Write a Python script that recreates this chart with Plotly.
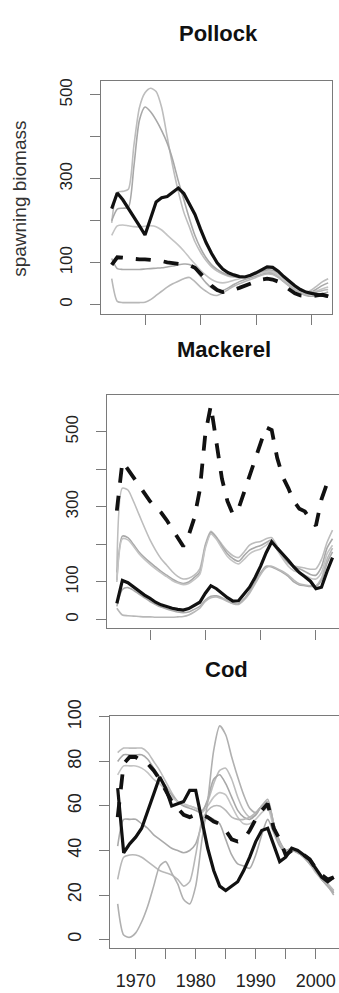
import plotly.graph_objects as go

# ---------------- data ----------------
years_pollock = list(range(1964, 2004))
years_mackerel = list(range(1964, 2004))
years_cod = list(range(1967, 2004))

pollock_solid = [229, 266, 250, 230, 210, 188, 166, 205, 245, 255, 258, 268, 278, 265, 240, 215,
                 180, 148, 122, 100, 85, 76, 71, 67, 66, 70, 76, 84, 90, 89, 80, 67, 55, 45, 36, 30,
                 27, 24, 22, 20]
pollock_dashed = [95, 113, 112, 110, 109, 108, 108, 107, 106, 104, 101, 99, 98, 96, 94, 88,
                  75, 60, 45, 35, 30, 32, 36, 40, 45, 50, 55, 60, 62, 60, 55, 45, 35, 27, 22, 20,
                  20, 22, 24, 20]
pollock_gray = [
    [195, 268, 270, 275, 380, 470, 505, 516, 508, 470, 400, 330, 270, 220, 185, 150,
     125, 105, 90, 80, 73, 68, 66, 65, 66, 70, 74, 78, 80, 78, 72, 62, 50, 40, 33, 30,
     35, 45, 55, 62],
    [200, 228, 230, 232, 330, 440, 471, 460, 440, 415, 385, 345, 295, 250, 205, 165,
     135, 112, 95, 84, 76, 70, 67, 66, 67, 70, 75, 80, 83, 82, 76, 65, 53, 42, 34, 28,
     30, 38, 46, 52],
    [165, 188, 190, 188, 186, 185, 187, 188, 186, 178, 166, 154, 142, 128, 112, 97,
     82, 70, 60, 54, 52, 54, 58, 62, 65, 68, 72, 76, 78, 77, 70, 60, 48, 38, 30, 25,
     28, 33, 38, 42],
    [110, 86, 84, 84, 84, 84, 85, 86, 87, 88, 90, 92, 95, 97, 96, 85,
     68, 52, 40, 33, 34, 40, 48, 55, 60, 64, 68, 72, 75, 74, 66, 55, 45, 36, 28, 22,
     20, 22, 26, 30],
    [62, 8, 5, 5, 5, 5, 6, 12, 22, 32, 42, 50, 56, 62, 65, 55,
     42, 32, 24, 22, 28, 36, 44, 50, 55, 60, 65, 70, 73, 72, 65, 55, 44, 35, 28, 24,
     26, 30, 34, 36],
]

mackerel_solid = [43, 104, 98, 87, 75, 65, 56, 46, 39, 34, 30, 27, 25, 29, 38, 46,
                  70, 90, 82, 70, 58, 49, 50, 68, 86, 112, 142, 178, 207, 190, 175, 158, 140, 125,
                  114, 102, 82, 86, 128, 165]
mackerel_dashed = [290, 420, 400, 378, 355, 335, 315, 300, 285, 265, 240, 215, 195, 225, 270, 345,
                   495, 570, 479, 375, 315, 280, 295, 340, 385, 431, 470, 512, 505, 430, 380, 350,
                   315, 295, 288, 265, 250, 320, 362, 350]
mackerel_gray = [
    [125, 350, 345, 315, 280, 245, 212, 185, 162, 145, 128, 115, 108, 110, 118, 135,
     200, 235, 220, 200, 182, 170, 165, 180, 198, 205, 208, 215, 218, 195, 172, 155,
     143, 140, 137, 134, 135, 160, 205, 238],
    [105, 222, 218, 200, 180, 165, 152, 140, 128, 118, 108, 100, 96, 100, 112, 126,
     195, 232, 218, 195, 175, 162, 155, 170, 185, 192, 197, 205, 212, 190, 168, 150,
     140, 135, 128, 120, 118, 140, 190, 215],
    [100, 215, 212, 195, 175, 160, 147, 135, 124, 114, 104, 97, 93, 96, 106, 120,
     190, 228, 214, 190, 168, 155, 148, 160, 175, 183, 188, 198, 208, 185, 162, 142,
     130, 125, 118, 110, 108, 125, 175, 198],
    [35, 80, 85, 78, 68, 58, 48, 40, 33, 28, 24, 20, 18, 20, 27, 35,
     52, 62, 63, 58, 50, 43, 42, 55, 75, 100, 125, 142, 140, 133, 125, 115,
     100, 92, 90, 88, 88, 105, 150, 180],
    [30, 12, 10, 9, 8, 7, 7, 6, 6, 6, 6, 7, 8, 12, 20, 30,
     48, 58, 60, 55, 48, 42, 40, 52, 70, 95, 120, 138, 142, 135, 128, 118,
     105, 95, 92, 90, 90, 110, 160, 190],
]

cod_solid = [68, 39, 43, 46, 50, 58, 66, 73, 68, 60, 61, 62, 67, 67, 54, 41, 31, 24, 22, 24,
             26, 31, 37, 44, 49, 50, 42, 35, 37, 41, 40, 38, 36, 32, 28, 26, 28]
cod_dashed = [55, 79, 82, 82, 80, 79, 76, 72, 67, 62, 59, 56, 55, 56, 56, 55, 53, 52, 49, 45,
              44, 45, 49, 54, 58, 61, 50, 45, 38, 40, 40, 38, 36, 32, 29, 27, 28]
cod_gray = [
    [84, 86, 86, 86, 86, 84, 80, 76, 71, 66, 62, 60, 60, 59, 58, 62, 70, 76, 77, 72,
     64, 58, 55, 56, 60, 62, 52, 44, 40, 41, 40, 38, 35, 31, 28, 25, 22],
    [80, 83, 83, 83, 83, 81, 77, 73, 69, 65, 62, 60, 59, 58, 57, 63, 72, 74, 70, 64,
     58, 55, 54, 56, 60, 61, 51, 43, 39, 40, 39, 37, 34, 31, 27, 24, 21],
    [74, 78, 78, 78, 77, 75, 72, 70, 67, 64, 62, 61, 60, 59, 57, 60, 64, 66, 65, 60,
     55, 52, 52, 54, 57, 59, 50, 43, 39, 40, 39, 37, 34, 30, 27, 24, 22],
    [42, 54, 54, 54, 52, 50, 47, 45, 43, 41, 40, 39, 40, 43, 51, 55, 54, 52, 45, 38,
     34, 33, 32, 38, 47, 54, 48, 42, 39, 40, 39, 37, 34, 31, 27, 24, 21],
    [27, 37, 38, 38, 37, 35, 33, 31, 30, 29, 27, 24, 26, 38, 53, 58, 60, 60, 58, 55,
     54, 54, 55, 57, 60, 62, 52, 44, 40, 41, 40, 38, 35, 31, 28, 25, 22],
    [16, 2, 1, 3, 8, 15, 24, 33, 35, 30, 25, 18, 16, 24, 44, 62, 85, 96, 92, 82,
     73, 65, 59, 57, 60, 63, 52, 44, 40, 41, 40, 38, 35, 31, 27, 24, 20],
]

titles = ["Pollock", "Mackerel", "Cod"]
ylab = "spawning biomass"

# ---------------- figure ----------------
W, H = 339, 993
FONT = "Liberation Sans, Arial, Helvetica, sans-serif"
GRAYS = ["#bdbdbd", "#a8a8a8", "#c4c4c4", "#aaaaaa", "#b8b8b8", "#b0b0b0"]
BOX = "#7a7a7a"

fig = go.Figure()

panels = [
    (years_pollock, pollock_solid, pollock_dashed, pollock_gray, "x", "y"),
    (years_mackerel, mackerel_solid, mackerel_dashed, mackerel_gray, "x2", "y2"),
    (years_cod, cod_solid, cod_dashed, cod_gray, "x3", "y3"),
]
for yrs, solid, dashed, grays, xa, ya in panels:
    for i, g in enumerate(grays):
        fig.add_trace(go.Scatter(x=yrs, y=g, mode="lines", xaxis=xa, yaxis=ya,
                                 line=dict(color=GRAYS[i % len(GRAYS)], width=1.6,
                                           shape="spline", smoothing=0.7),
                                 hoverinfo="skip", showlegend=False))
    fig.add_trace(go.Scatter(x=yrs, y=solid, mode="lines", xaxis=xa, yaxis=ya,
                             line=dict(color="#111111", width=3.2),
                             showlegend=False))
    fig.add_trace(go.Scatter(x=yrs, y=dashed, mode="lines", xaxis=xa, yaxis=ya,
                             line=dict(color="#111111", width=3.8, dash="15px,13px"),
                             showlegend=False))


def px_x(p):
    return p / W


def px_y(p):
    return 1 - p / H


def xaxis(domain, rng, tickvals, ticktext, tick_font):
    return dict(domain=domain, range=rng, showgrid=False, zeroline=False,
                showline=True, linecolor=BOX, linewidth=1.3, mirror=True,
                ticks="outside", ticklen=10, tickwidth=1.3, tickcolor=BOX,
                tickvals=tickvals, ticktext=ticktext,
                tickfont=dict(family=FONT, size=tick_font, color="#222"),
                ticklabelstandoff=6, fixedrange=True)


def yaxis(domain, rng, tickvals, ticktext, anchor, mirror, tick_font):
    return dict(domain=domain, range=rng, anchor=anchor, showgrid=False, zeroline=False,
                showline=True, linecolor=BOX, linewidth=1.3, mirror=mirror,
                ticks="outside", ticklen=10, tickwidth=1.3, tickcolor=BOX,
                tickvals=tickvals, ticktext=ticktext, tickangle=-90,
                tickfont=dict(family=FONT, size=tick_font, color="#222"),
                ticklabelstandoff=11, fixedrange=True)


big_ticks = [0, 100, 200, 300, 400, 500]
big_text = ["0", "100", "", "300", "", "500"]
dec = [1970, 1980, 1990, 2000]
cod_xt = [1970, 1975, 1980, 1985, 1990, 1995, 2000]
cod_xtext = ["1970", "", "1980", "", "1990", "", "2000"]

fig.update_layout(
    width=W, height=H, margin=dict(l=0, r=0, t=0, b=0),
    paper_bgcolor="white", plot_bgcolor="white", showlegend=False,
    xaxis=dict(xaxis([px_x(101), px_x(332)], [1962.07, 1962.07 + 231 / 5.55], dec,
                     ["", "", "", ""], 17), anchor="y"),
    yaxis=yaxis([px_y(302), px_y(65)], [-21.8, 533.4], big_ticks, big_text, "x", True, 17),
    xaxis2=dict(xaxis([px_x(107), 1.0], [1962.22, 2004.17], dec, ["", "", "", ""], 17), anchor="y2"),
    yaxis2=yaxis([px_y(622), px_y(385)], [-23.6, 597], big_ticks, big_text, "x2", False, 17),
    xaxis3=dict(xaxis([px_x(110), 1.0], [1965.72, 2003.88], cod_xt, cod_xtext, 18), anchor="y3"),
    yaxis3=yaxis([px_y(947), px_y(711)], [-3.7, 100.5], [0, 20, 40, 60, 80, 100],
                 ["0", "20", "40", "60", "80", "100"], "x3", False, 18),
)

title_pos = [(218, 17), (224, 338), (226, 664)]
for t, (cx, cy) in zip(titles, title_pos):
    fig.add_annotation(text="<b>%s</b>" % t, x=px_x(cx), y=px_y(cy), xref="paper", yref="paper",
                       xanchor="center", yanchor="middle", showarrow=False,
                       font=dict(family=FONT, size=22, color="#111"))

fig.add_annotation(text=ylab, x=px_x(20), y=px_y(185), xref="paper", yref="paper",
                   xanchor="center", yanchor="middle", textangle=-90, showarrow=False,
                   font=dict(family=FONT, size=19, color="#333"))

fig.write_html("out.html", config={"displayModeBar": False},
               post_script="document.body.style.margin='0px';")
